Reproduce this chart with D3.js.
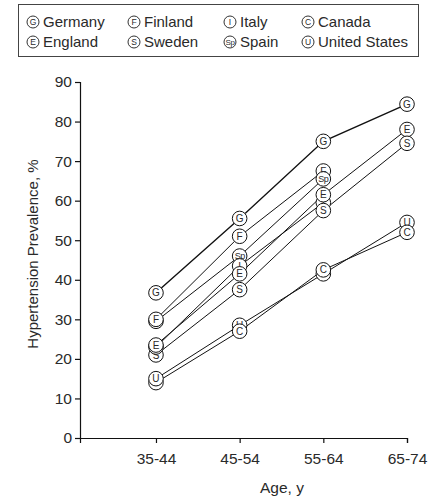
<!DOCTYPE html>
<html>
<head>
<meta charset="utf-8">
<script src="https://cdn.jsdelivr.net/npm/d3@7"></script>
<style>
  body { margin: 0; background: #fff; }
  svg { display: block; font-family: "Liberation Sans", Arial, sans-serif; }
  text { fill: #2a2a2a; }
</style>
</head>
<body>
<script>
"use strict";

// age groups on x axis
let ages = ["35-44", "45-54", "55-64", "65-74"];
let yTicks = [0, 10, 20, 30, 40, 50, 60, 70, 80, 90];

// prevalence per country, null where not surveyed
let germany = [36.7, 55.5, 75, 84.4];
let finland = [30, 51, 67.5, null];
let italy = [23, 43.5, 59.5, null];
let canada = [14, 27, 42.5, 52];
let england = [23.5, 41.5, 61.5, 78];
let sweden = [21, 37.5, 57.5, 74.5];
let spain = [29.5, 46, 65.5, null];
let usa = [15, 28.5, 41.5, 54.5];

let names = ["Germany", "Finland", "Italy", "Canada", "England", "Sweden", "Spain", "United States"];
let symbols = ["G", "F", "I", "C", "E", "S", "Sp", "U"];
let values = [germany, finland, italy, canada, england, sweden, spain, usa];

let width = 435;
let height = 504;

let svg = d3.select("body").append("svg")
  .attr("width", width)
  .attr("height", height);

let x = d3.scalePoint()
  .domain(ages)
  .range([80, 407])
  .padding(0.454)
  .align(1);

let y = d3.scaleLinear()
  .domain([0, 90])
  .range([438, 82]);

// axes
let yAxis = svg.append("g")
  .attr("transform", "translate(80,0)")
  .call(d3.axisLeft(y).tickValues(yTicks).tickSize(5).tickPadding(3));

let xAxis = svg.append("g")
  .attr("transform", "translate(0,438)")
  .call(d3.axisBottom(x).tickSize(5).tickPadding(10));

[yAxis, xAxis].forEach((g) =>
{
  g.select(".domain").attr("stroke", "#111").attr("stroke-width", 1.2);
  g.selectAll(".tick line").attr("stroke", "#111").attr("stroke-width", 1.2);
  g.selectAll(".tick text")
    .style("font-family", "Liberation Sans, Arial, sans-serif")
    .style("font-size", "15.5px")
    .attr("fill", "#2a2a2a");
});

svg.append("text")
  .attr("transform", "translate(38," + y(46.5) + ") rotate(-90)")
  .attr("text-anchor", "middle")
  .style("font-size", "15px")
  .text("Hypertension Prevalence, %");

svg.append("text")
  .attr("x", 282)
  .attr("y", 493)
  .attr("text-anchor", "middle")
  .style("font-size", "15.5px")
  .text("Age, y");

// series lines
let line = d3.line()
  .defined((d) => d != null)
  .x((d, i) => x(ages[i]))
  .y((d) => y(d));

values.forEach((vals, k) =>
{
  svg.append("path")
    .datum(vals)
    .attr("fill", "none")
    .attr("stroke", "#111")
    .attr("stroke-width", k == 0 ? 1.4 : 1)
    .attr("d", line);
});

// markers: first column higher on top, others stacked in series order
let stackOrder = [7, 1, 6, 2, 4, 5, 3, 0];
let pts = [];
values.forEach((vals, k) =>
{
  vals.forEach((v, i) =>
  {
    if (v != null)
      pts.push({k: k, i: i, v: v});
  });
});
pts.sort((a, b) =>
{
  if (a.i != b.i) return a.i - b.i;
  if (a.i == 0) return a.v - b.v;
  return stackOrder.indexOf(a.k) - stackOrder.indexOf(b.k);
});

let m = svg.append("g").selectAll("g").data(pts).enter().append("g")
  .attr("transform", (p) => "translate(" + x(ages[p.i]) + "," + y(p.v) + ")");

m.append("circle")
  .attr("r", 7.3)
  .attr("fill", "#fff")
  .attr("stroke", "#111")
  .attr("stroke-width", 1);

m.append("text")
  .attr("text-anchor", "middle")
  .attr("dy", "0.36em")
  .attr("letter-spacing", (p) => symbols[p.k] == "Sp" ? "-0.5px" : null)
  .style("font-size", (p) => symbols[p.k] == "Sp" ? "9px" : "10px")
  .attr("fill", "#444")
  .text((p) => symbols[p.k]);

// legend
let legend = svg.append("g");

legend.append("rect")
  .attr("x", 18.5)
  .attr("y", 4.5)
  .attr("width", 400)
  .attr("height", 52)
  .attr("fill", "none")
  .attr("stroke", "#444")
  .attr("stroke-width", 1);

let colX = [33, 134, 230, 308];
let rowY = [22, 42];

names.forEach((name, i) =>
{
  let cx = colX[i % 4];
  let cy = rowY[Math.floor(i / 4)];
  let item = legend.append("g").attr("transform", "translate(" + cx + "," + cy + ")");

  item.append("circle")
    .attr("r", 6)
    .attr("fill", "#fff")
    .attr("stroke", "#333")
    .attr("stroke-width", 1);

  item.append("text")
    .attr("text-anchor", "middle")
    .attr("dy", "0.36em")
    .attr("letter-spacing", symbols[i] == "Sp" ? "-0.5px" : null)
    .style("font-size", symbols[i] == "Sp" ? "8px" : "8.5px")
    .text(symbols[i]);

  item.append("text")
    .attr("x", 10)
    .attr("dy", "0.36em")
    .style("font-size", "15px")
    .text(name);
});
</script>
</body>
</html>
